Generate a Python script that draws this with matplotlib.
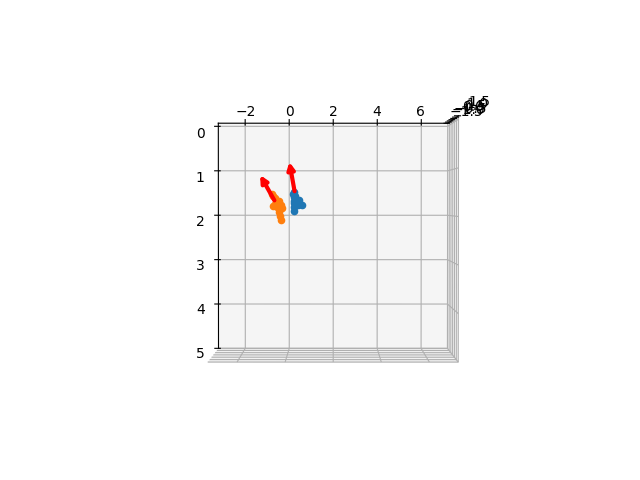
import numpy as np
import matplotlib
matplotlib.use('Agg')
import matplotlib.pyplot as plt
from matplotlib.patches import FancyArrowPatch
from mpl_toolkits.mplot3d import proj3d

blue_x = [0.3, 0.34, 0.3, 0.5, 0.62, 0.45, 0.32, 0.3, 0.28, 0.28, 0.56, 0.42, 0.3]
blue_y = [1.49, 1.58, 1.67, 1.65, 1.76, 1.76, 1.81, 1.9, 1.53, 1.72, 1.74, 1.7, 1.6]
blue_z = [0.0, 0.1, -0.1, 0.2, 0.0, -0.2, 0.1, 0.0, 0.2, -0.1, 0.0, 0.1, 0.0]

orange_x = [-0.66, -0.52, -0.38, -0.24, -0.61, -0.43, -0.24, -0.38, -0.29, -0.24, -0.52, -0.6, -0.34]
orange_y = [1.53, 1.62, 1.69, 1.76, 1.78, 1.81, 1.83, 1.92, 2.01, 2.08, 1.74, 1.58, 1.78]
orange_z = [0.1, 0.0, -0.1, 0.2, 0.0, 0.1, -0.2, 0.0, 0.1, 0.2, 0.0, 0.0, 0.1]

# arrows: [start, tip]
arrow1_x = [0.34, 0.07]
arrow1_y = [1.53, 0.78]
arrow1_z = [0.0, 0.0]
arrow2_x = [-0.5, -1.24]
arrow2_y = [1.72, 1.07]
arrow2_z = [0.0, 0.0]


class Arrow3D(FancyArrowPatch):
    def __init__(self, xs, ys, zs, *args, **kwargs):
        FancyArrowPatch.__init__(self, (0, 0), (0, 0), *args, **kwargs)
        self._verts3d = xs, ys, zs

    def do_3d_projection(self, renderer=None):
        xs3d, ys3d, zs3d = self._verts3d
        xs, ys, zs = proj3d.proj_transform(xs3d, ys3d, zs3d, self.axes.M)
        self.set_positions((xs[0], ys[0]), (xs[1], ys[1]))
        return np.min(zs)


fig = plt.figure(figsize=(6.4, 4.8), dpi=100)
ax = fig.add_subplot(projection='3d')
ax.scatter(blue_x, blue_y, blue_z, s=20, depthshade=False)
ax.scatter(orange_x, orange_y, orange_z, s=20, depthshade=False)
for ax_, ay_, az_ in [(arrow1_x, arrow1_y, arrow1_z), (arrow2_x, arrow2_y, arrow2_z)]:
    ax.add_artist(Arrow3D(ax_, ay_, az_, mutation_scale=10, lw=3, arrowstyle='-|>', color='r'))
ax.set_xlim(-3.22, 7.2)
ax.set_ylim(5.0, -0.07)
ax.set_zlim(-1.5, 1.5)
ax.set_xticks([-2, 0, 2, 4, 6])
ax.set_yticks([0, 1, 2, 3, 4, 5])
ax.set_zticks([-1.5, -1.0, -0.5, 0.0, 0.5, 1.0, 1.5])
ax.set_box_aspect((4, 3.93, 3))
ax.view_init(elev=91, azim=-89.99)
# z axis goes on the top right corner
ax.zaxis._axinfo['juggled'] = (1, 2, 0)
fig.savefig('out.png', dpi=100)
